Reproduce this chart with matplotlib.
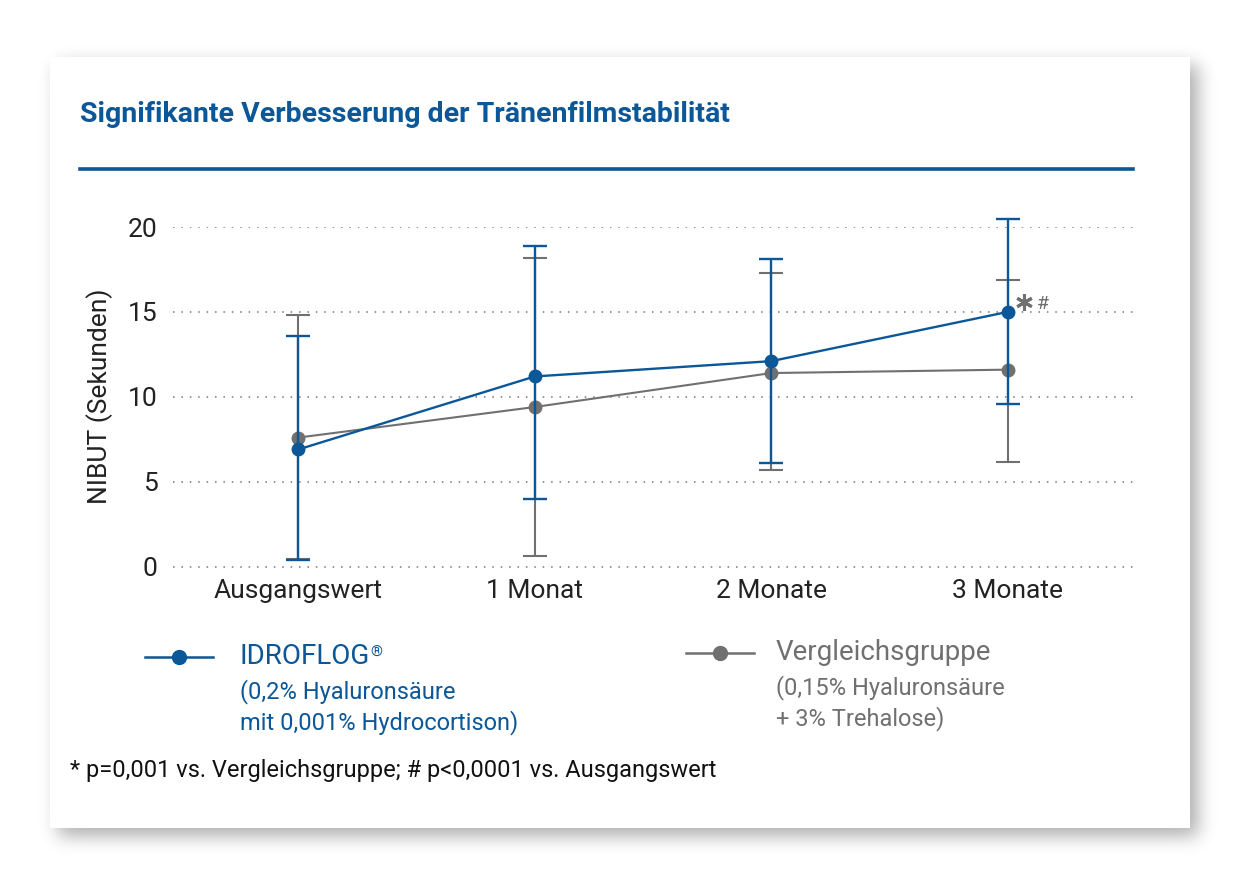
import matplotlib
matplotlib.use('Agg')
import matplotlib.pyplot as plt
import numpy as np
from matplotlib.patches import Rectangle
from matplotlib.lines import Line2D

plt.rcParams['font.family'] = ['Roboto', 'DejaVu Sans']

categories = ['Ausgangswert', '1 Monat', '2 Monate', '3 Monate']
idro_mean = [6.9, 11.2, 12.1, 15.0]
idro_upper = [13.6, 18.9, 18.1, 20.5]
idro_lower = [0.4, 4.0, 6.1, 9.6]
vergl_mean = [7.6, 9.4, 11.4, 11.6]
vergl_upper = [14.8, 18.2, 17.3, 16.9]
vergl_lower = [0.45, 0.6, 5.7, 6.15]
yticks = [0, 5, 10, 15, 20]

blue = '#0b5797'
gray = '#707070'

W, H = 1240, 886
fig = plt.figure(figsize=(12.4, 8.86), dpi=100)
fig.patch.set_facecolor('white')

# blurred drop shadow behind the card
mask = np.zeros((H, W))
mask[57 + 8:828 + 8, 50 + 8:1190 + 8] = 1.0
k = np.exp(-0.5 * (np.arange(-30, 31) / 9.0) ** 2)
k /= k.sum()
mask = np.apply_along_axis(lambda r: np.convolve(r, k, mode='same'), 1, mask)
mask = np.apply_along_axis(lambda c: np.convolve(c, k, mode='same'), 0, mask)
shadow = np.ones((H, W, 4))
shadow[..., :3] = 0.0
shadow[..., 3] = mask * 0.32
fig.figimage(shadow, 0, 0, origin='upper', zorder=-3)

fig.patches.append(Rectangle((50 / W, 1 - 828 / H), 1140 / W, 771 / H, transform=fig.transFigure,
                             facecolor='white', edgecolor='none', zorder=-1))

fig.text(80 / W, 1 - 115 / H, 'Signifikante Verbesserung der Tränenfilmstabilität', color=blue,
         fontsize=20.5, fontweight='bold', va='center', ha='left')
fig.add_artist(Line2D([80 / W, 1133 / W], [1 - 169 / H, 1 - 169 / H], color=blue, lw=2.6))

ax = fig.add_axes([173 / W, 1 - 568 / H, (1133 - 173) / W, (568 - 227) / H])
ax.set_facecolor('none')
x = list(range(len(categories)))

def draw(mean, lower, upper, color, lw, z):
    yerr = [[m - l for m, l in zip(mean, lower)], [u - m for m, u in zip(mean, upper)]]
    ax.errorbar(x, mean, yerr=yerr, color=color, lw=lw, marker='o', ms=9, capsize=8.7,
                capthick=lw, elinewidth=lw, zorder=z, clip_on=False)

draw(vergl_mean, vergl_lower, vergl_upper, gray, 1.5, 3)
draw(idro_mean, idro_lower, idro_upper, blue, 1.7, 4)

# significance marks at 3 Monate
ax.plot([x[3] + 0.07], [idro_mean[3] + 0.6], marker=(6, 2, 0), ms=12, mew=2.2, color=gray,
        lw=0, clip_on=False)
ax.text(x[3] + 0.125, idro_mean[3] + 0.6, '#', color=gray, fontsize=14, ha='left', va='center_baseline')

ax.set_xlim(-0.53, 3.53)
ax.set_ylim(-0.08, 20)
ax.set_yticks(yticks)
ax.set_xticks(x)
ax.set_xticklabels(categories)
ax.yaxis.grid(True, linestyle=(0, (1, 4.5)), color='#777777', lw=1.1)
ax.set_axisbelow(True)
for s in ax.spines.values():
    s.set_visible(False)
ax.tick_params(length=0, labelsize=19, colors='#222222')
ax.tick_params(axis='x', pad=8)
ax.tick_params(axis='y', pad=11)
ax.set_ylabel('NIBUT (Sekunden)', fontsize=19, color='#222222')
ax.yaxis.set_label_coords(-0.063, 0.503)

# legend
def leg_marker(x0, x1, y, color):
    fig.add_artist(Line2D([x0 / W, x1 / W], [1 - y / H, 1 - y / H], color=color, lw=1.8))
    fig.add_artist(Line2D([(x0 + x1) / 2 / W], [1 - y / H], color=color, marker='o', ms=10, lw=0))

leg_marker(145, 213, 657, blue)
t = fig.text(240 / W, 1 - 657 / H, 'IDROFLOG', color=blue, fontsize=20, va='center')
ax.annotate('®', xy=(1.0, 0.92), xycoords=t, color=blue, fontsize=11, va='top', ha='left',
            annotation_clip=False)
fig.text(240 / W, 1 - 692 / H, '(0,2% Hyaluronsäure', color=blue, fontsize=17, va='center')
fig.text(240 / W, 1 - 723 / H, 'mit 0,001% Hydrocortison)', color=blue, fontsize=17, va='center')

leg_marker(686, 754, 653, gray)
fig.text(776 / W, 1 - 653 / H, 'Vergleichsgruppe', color=gray, fontsize=20, va='center')
fig.text(776 / W, 1 - 688 / H, '(0,15% Hyaluronsäure', color=gray, fontsize=17, va='center')
fig.text(776 / W, 1 - 719 / H, '+ 3% Trehalose)', color=gray, fontsize=17, va='center')

fig.text(70 / W, 1 - 770 / H, '* p=0,001 vs. Vergleichsgruppe; # p<0,0001 vs. Ausgangswert', color='#111111',
         fontsize=17, va='center')

fig.savefig('out.png', dpi=100, facecolor='white')
